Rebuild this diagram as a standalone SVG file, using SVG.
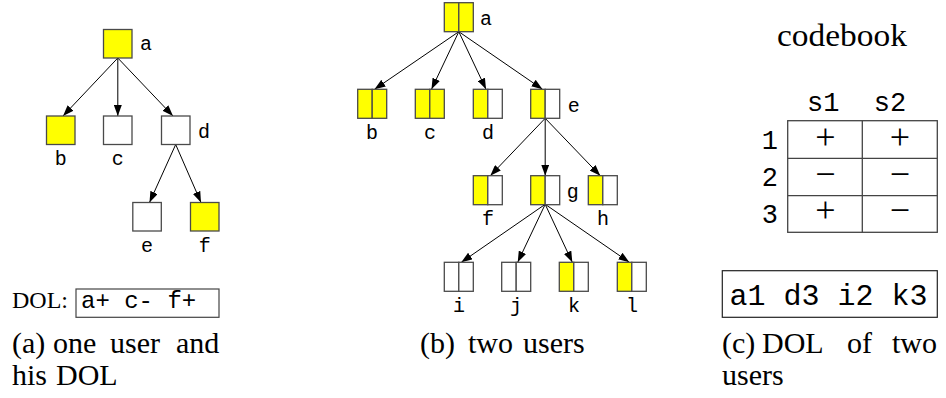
<svg xmlns="http://www.w3.org/2000/svg" width="946" height="398" viewBox="0 0 946 398">
<defs>
<marker id="ah" markerUnits="userSpaceOnUse" markerWidth="12" markerHeight="8" refX="11" refY="4" orient="auto">
<path d="M0,0 L11,4 L0,8 z" fill="#000"/>
</marker>
</defs>
<style>
.bg{fill:#fff}
.y{fill:#ffff00;stroke:#4a4a4a;stroke-width:1.3}
.w{fill:#fff;stroke:#4a4a4a;stroke-width:1.3}
.e{stroke:#000;stroke-width:1;fill:none;marker-end:url(#ah)}
.lbl{font-family:"Liberation Mono",monospace;font-size:20px;fill:#000}
.cap{font-family:"Liberation Serif",serif;font-size:30px;fill:#000}
.tb{fill:none;stroke:#444;stroke-width:1.3}
.mono{font-family:"Liberation Mono",monospace;fill:#000}
.sym{font-family:"Liberation Serif",serif;font-size:36px;fill:#000;text-anchor:middle}
</style>
<rect class="bg" x="0" y="0" width="946" height="398"/>

<!-- Panel (a) -->
<g id="edges-a">
<line class="e" x1="117.8" y1="58" x2="63" y2="116"/>
<line class="e" x1="117.8" y1="58" x2="117.8" y2="116"/>
<line class="e" x1="117.8" y1="58" x2="173" y2="116"/>
<line class="e" x1="175.7" y1="144.5" x2="149.5" y2="202.5"/>
<line class="e" x1="175.7" y1="144.5" x2="201" y2="202.5"/>
</g>
<g id="a-a"><rect class="y" x="103.5" y="29.5" width="28.5" height="28.5"/><text class="lbl" x="140" y="50">a</text></g>
<g id="a-b"><rect class="y" x="46.5" y="116" width="28.5" height="28.5"/><text class="lbl" x="60.7" y="165" text-anchor="middle">b</text></g>
<g id="a-c"><rect class="w" x="103.5" y="116" width="28.5" height="28.5"/><text class="lbl" x="117.8" y="165" text-anchor="middle">c</text></g>
<g id="a-d"><rect class="w" x="161.5" y="116" width="28.5" height="28.5"/><text class="lbl" x="198" y="138">d</text></g>
<g id="a-e"><rect class="w" x="132.8" y="202.5" width="28.5" height="28.5"/><text class="lbl" x="147" y="252" text-anchor="middle">e</text></g>
<g id="a-f"><rect class="y" x="190.5" y="202.5" width="28.5" height="28.5"/><text class="lbl" x="204.8" y="252" text-anchor="middle">f</text></g>

<g id="dol-a">
<text class="cap" x="12" y="308" style="font-size:24px">DOL:</text>
<rect x="76" y="289" width="143" height="28.3" fill="none" stroke="#444" stroke-width="1.2"/>
<text class="mono" x="81" y="308" style="font-size:24px">a+ c- f+</text>
</g>
<g id="caption-a">
<text class="cap" y="353"><tspan x="12">(a)</tspan><tspan x="53">one</tspan><tspan x="110">user</tspan><tspan x="176">and</tspan></text>
<text class="cap" y="385"><tspan x="12">his</tspan><tspan x="56">DOL</tspan></text>
</g>

<!-- Panel (b) -->
<g id="edges-b">
<line class="e" x1="458.8" y1="31.7" x2="374.5" y2="89.3"/>
<line class="e" x1="458.8" y1="31.7" x2="431.5" y2="89.3"/>
<line class="e" x1="458.8" y1="31.7" x2="486" y2="89.3"/>
<line class="e" x1="458.8" y1="31.7" x2="542.5" y2="89.3"/>
<line class="e" x1="545.2" y1="118.3" x2="490.3" y2="175.7"/>
<line class="e" x1="545.2" y1="118.3" x2="545.2" y2="175.7"/>
<line class="e" x1="545.2" y1="118.3" x2="600.3" y2="175.7"/>
<line class="e" x1="545.2" y1="204.3" x2="461.3" y2="262.3"/>
<line class="e" x1="545.2" y1="204.3" x2="517.7" y2="262.3"/>
<line class="e" x1="545.2" y1="204.3" x2="572.3" y2="262.3"/>
<line class="e" x1="545.2" y1="204.3" x2="629.3" y2="262.3"/>
</g>
<g id="b-a"><rect class="y" x="444.3" y="2.7" width="14.5" height="29"/><rect class="y" x="458.8" y="2.7" width="14.5" height="29"/><text class="lbl" x="480" y="25">a</text></g>
<g id="b-b"><rect class="y" x="357.7" y="89.3" width="14.5" height="29"/><rect class="y" x="372.2" y="89.3" width="14.5" height="29"/><text class="lbl" x="372" y="139.3" text-anchor="middle">b</text></g>
<g id="b-c"><rect class="y" x="415.3" y="89.3" width="14.5" height="29"/><rect class="y" x="429.8" y="89.3" width="14.5" height="29"/><text class="lbl" x="430" y="139.3" text-anchor="middle">c</text></g>
<g id="b-d"><rect class="y" x="473.3" y="89.3" width="14.5" height="29"/><rect class="w" x="487.8" y="89.3" width="14.5" height="29"/><text class="lbl" x="488" y="139.3" text-anchor="middle">d</text></g>
<g id="b-e"><rect class="y" x="530.7" y="89.3" width="14.5" height="29"/><rect class="w" x="545.2" y="89.3" width="14.5" height="29"/><text class="lbl" x="567.7" y="111.7">e</text></g>
<g id="b-f"><rect class="y" x="473.3" y="175.7" width="14.5" height="29"/><rect class="w" x="487.8" y="175.7" width="14.5" height="29"/><text class="lbl" x="488" y="225" text-anchor="middle">f</text></g>
<g id="b-g"><rect class="y" x="530.7" y="175.7" width="14.5" height="29"/><rect class="w" x="545.2" y="175.7" width="14.5" height="29"/><text class="lbl" x="566.7" y="198">g</text></g>
<g id="b-h"><rect class="y" x="588.3" y="175.7" width="14.5" height="29"/><rect class="w" x="602.8" y="175.7" width="14.5" height="29"/><text class="lbl" x="603" y="225" text-anchor="middle">h</text></g>
<g id="b-i"><rect class="w" x="444.3" y="262.3" width="14.5" height="29"/><rect class="w" x="458.8" y="262.3" width="14.5" height="29"/><text class="lbl" x="459" y="311.7" text-anchor="middle">i</text></g>
<g id="b-j"><rect class="w" x="501.7" y="262.3" width="14.5" height="29"/><rect class="w" x="516.2" y="262.3" width="14.5" height="29"/><text class="lbl" x="516" y="311.7" text-anchor="middle">j</text></g>
<g id="b-k"><rect class="y" x="559.3" y="262.3" width="14.5" height="29"/><rect class="w" x="573.8" y="262.3" width="14.5" height="29"/><text class="lbl" x="574" y="311.7" text-anchor="middle">k</text></g>
<g id="b-l"><rect class="y" x="617.3" y="262.3" width="14.5" height="29"/><rect class="w" x="631.8" y="262.3" width="14.5" height="29"/><text class="lbl" x="632" y="311.7" text-anchor="middle">l</text></g>
<g id="caption-b">
<text class="cap" y="353"><tspan x="420">(b)</tspan><tspan x="468">two</tspan><tspan x="523">users</tspan></text>
</g>

<!-- Panel (c) -->
<g id="codebook">
<text class="cap" x="777" y="46" style="font-size:31px" textLength="130" lengthAdjust="spacingAndGlyphs">codebook</text>
<text class="mono" x="823.3" y="111" text-anchor="middle" style="font-size:27px">s1</text>
<text class="mono" x="890" y="111" text-anchor="middle" style="font-size:27px">s2</text>
<text class="mono" x="778" y="149" text-anchor="end" style="font-size:27px">1</text>
<text class="mono" x="778" y="186" text-anchor="end" style="font-size:27px">2</text>
<text class="mono" x="778" y="223" text-anchor="end" style="font-size:27px">3</text>
<rect class="tb" x="787.7" y="120.7" width="149.6" height="111.6"/>
<line class="tb" x1="862.3" y1="120.7" x2="862.3" y2="232.3"/>
<line class="tb" x1="787.7" y1="158.3" x2="937.3" y2="158.3"/>
<line class="tb" x1="787.7" y1="195.7" x2="937.3" y2="195.7"/>
<text class="sym" x="825.5" y="149">+</text>
<text class="sym" x="900" y="149">+</text>
<text class="sym" x="825.5" y="185.7">−</text>
<text class="sym" x="900" y="185.7">−</text>
<text class="sym" x="825.5" y="222.3">+</text>
<text class="sym" x="900" y="222.3">−</text>
</g>
<g id="dol-c">
<rect x="722.3" y="270.7" width="215" height="46.6" fill="none" stroke="#222" stroke-width="1.2"/>
<text class="mono" x="729.5" y="305" style="font-size:30px">a1 d3 i2 k3</text>
</g>
<g id="caption-c">
<text class="cap" y="353"><tspan x="722">(c)</tspan><tspan x="762">DOL</tspan><tspan x="847">of</tspan><tspan x="892">two</tspan></text>
<text class="cap" x="722" y="385">users</text>
</g>
</svg>
